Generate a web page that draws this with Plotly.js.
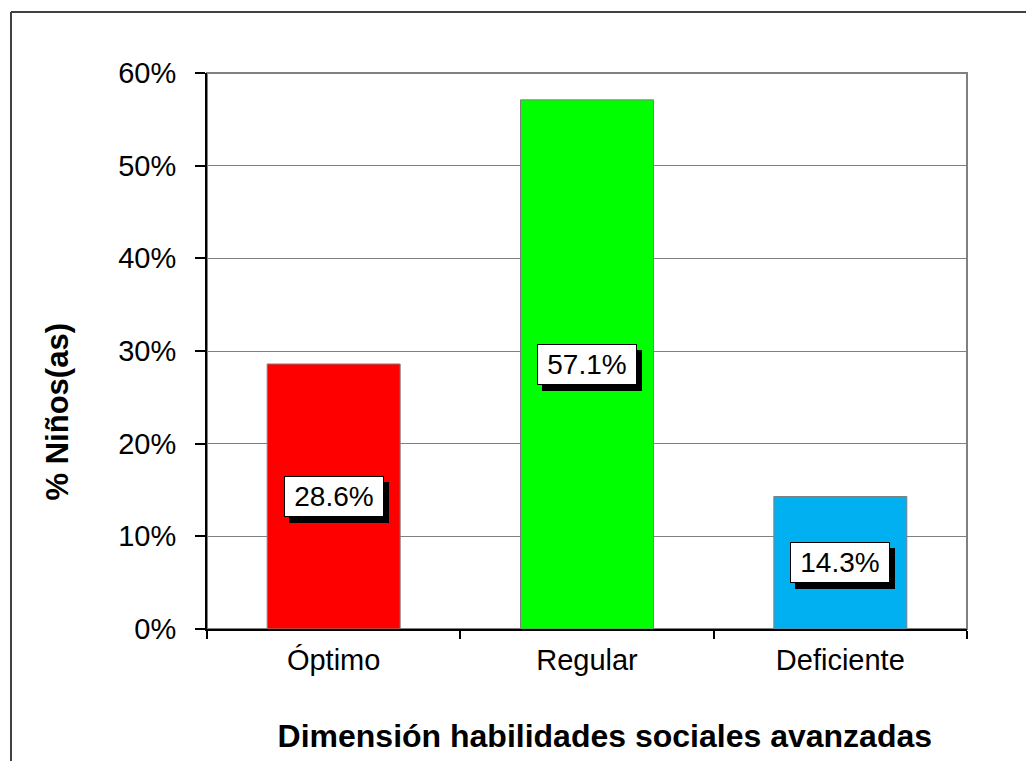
<!DOCTYPE html>
<html>
<head>
<meta charset="utf-8">
<script src="https://cdn.plot.ly/plotly-3.0.1.min.js"></script>
<style>
html,body{margin:0;padding:0;background:#fff;}
#chart{width:1026px;height:761px;}
</style>
</head>
<body>
<div id="chart"></div>
<script>
var categories = ["Óptimo", "Regular", "Deficiente"];
var values = [0.286, 0.571, 0.143];
var labels = ["28.6%", "57.1%", "14.3%"];
var barColors = ["#FF0000", "#00FF00", "#00B0F0"];
var yTickVals = [0, 0.1, 0.2, 0.3, 0.4, 0.5, 0.6];
var yTickText = ["0%", "10%", "20%", "30%", "40%", "50%", "60%"];
var xTitle = "Dimensión habilidades sociales avanzadas";
var yTitle = "% Niños(as)";

var FONT = "Arial, 'Liberation Sans', sans-serif";

var trace = {
  type: "bar",
  x: categories,
  y: values,
  width: 0.525,
  marker: {color: barColors, line: {color: "#808080", width: 1}},
  hoverinfo: "skip"
};

var annotations = [];
for (var i = 0; i < categories.length; i++) {
  // shadow box (no text)
  annotations.push({
    x: categories[i], y: values[i] / 2, xref: "x", yref: "y",
    text: " ", showarrow: false,
    font: {family: FONT, size: 28, color: "#000"},
    bgcolor: "#000", bordercolor: "#000", borderwidth: 1, borderpad: 1,
    width: 96, height: 37, xshift: 5, yshift: -6
  });
  annotations.push({
    x: categories[i], y: values[i] / 2, xref: "x", yref: "y",
    text: labels[i], showarrow: false,
    font: {family: FONT, size: 28, color: "#000"},
    bgcolor: "#fff", bordercolor: "#000", borderwidth: 1, borderpad: 1,
    width: 96, height: 37
  });
}
annotations.push({
  xref: "paper", yref: "paper", x: -0.197, y: 0.39,
  xanchor: "center", yanchor: "middle",
  text: "<b>" + yTitle + "</b>", showarrow: false, textangle: -90,
  font: {family: FONT, size: 31, color: "#000"}
});

var layout = {
  width: 1026, height: 761,
  margin: {l: 207, r: 59, t: 73, b: 132},
  paper_bgcolor: "#fff", plot_bgcolor: "#fff",
  showlegend: false,
  bargap: 0.475,
  font: {family: FONT, color: "#000"},
  xaxis: {
    type: "category",
    tickson: "boundaries",
    ticks: "outside", ticklen: 8, tickwidth: 2, tickcolor: "#000",
    showline: true, linecolor: "#000", linewidth: 2,
    showgrid: false,
    tickfont: {family: FONT, size: 29, color: "#000"},
    ticklabelstandoff: 4,
    title: {text: "&nbsp;&nbsp;&nbsp;&nbsp;<b>" + xTitle + "</b>", font: {family: FONT, size: 32, color: "#000"}, standoff: 50},
    fixedrange: true
  },
  yaxis: {
    range: [0, 0.6],
    tickvals: yTickVals, ticktext: yTickText,
    ticks: "outside", ticklen: 10, tickwidth: 2, tickcolor: "#000",
    showline: true, linecolor: "#000", linewidth: 2,
    showgrid: true, gridcolor: "#808080", gridwidth: 1,
    zeroline: false,
    tickfont: {family: FONT, size: 29, color: "#000"},
    ticklabelstandoff: 13,
    fixedrange: true
  },
  shapes: [
    {type: "rect", xref: "paper", yref: "paper", x0: 0, x1: 1, y0: 0, y1: 1,
     line: {color: "#808080", width: 2}, layer: "below"},
    {type: "line", xref: "paper", yref: "paper", x0: -0.2579, x1: -0.2579, y0: -0.25, y1: 1.1097,
     line: {color: "#404040", width: 2}},
    {type: "line", xref: "paper", yref: "paper", x0: -0.2579, x1: 1.1, y0: 1.1097, y1: 1.1097,
     line: {color: "#404040", width: 2}}
  ],
  annotations: annotations
};

Plotly.newPlot("chart", [trace], layout, {displayModeBar: false, staticPlot: true});
</script>
</body>
</html>
